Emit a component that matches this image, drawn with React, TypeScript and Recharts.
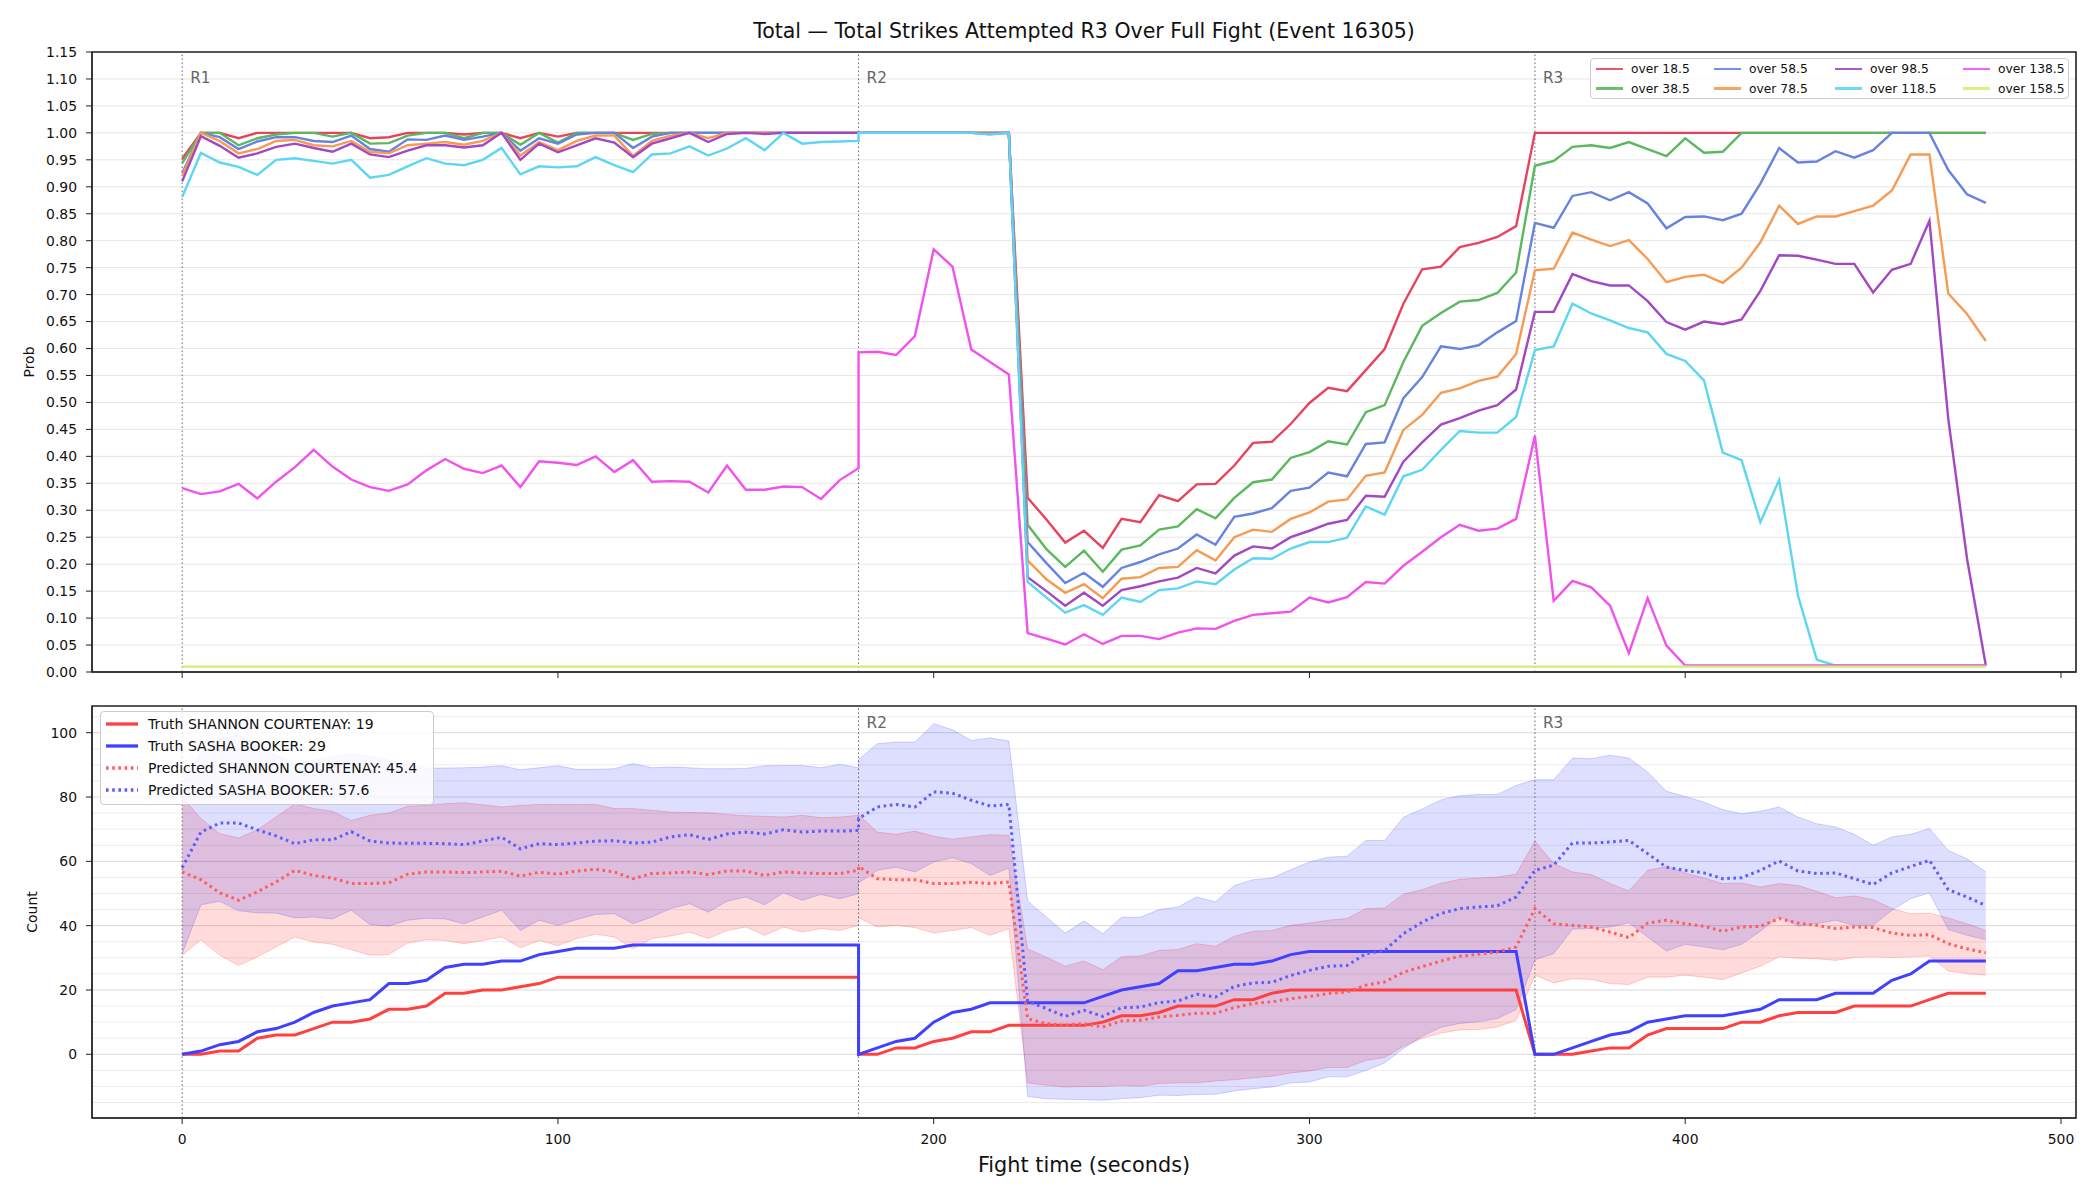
import { ComposedChart, Line, Area, XAxis, YAxis, CartesianGrid, ReferenceLine, ReferenceArea } from 'recharts';

// fight time in seconds, round 2 repeats t=180 so the jump at the bell is vertical
const fightTimes = [
  0, 5, 10, 15, 20, 25, 30, 35, 40, 45, 50, 55, 60, 65, 70, 75, 80, 85, 90, 95, 100, 105, 110, 115, 120, 125, 130, 135, 140, 145, 150, 155, 160, 165, 170, 175, 180,
  180, 185, 190, 195, 200, 205, 210, 215, 220, 225, 230, 235, 240, 245, 250, 255, 260, 265, 270, 275, 280, 285, 290, 295, 300, 305, 310, 315, 320, 325, 330, 335, 340, 345, 350, 355,
  360, 365, 370, 375, 380, 385, 390, 395, 400, 405, 410, 415, 420, 425, 430, 435, 440, 445, 450, 455, 460, 465, 470, 475, 480,
];

const over18 = [
  0.952, 1, 1, 0.99, 1, 1, 1, 1, 1, 1, 0.99, 0.992, 1, 1, 1, 0.997, 1, 1, 0.99, 1, 0.993, 1, 1, 1, 1, 1, 1, 1, 1, 1, 1, 1, 1, 1, 1, 1, 1,
  1, 1, 1, 1, 1, 1, 1, 1, 1, 0.323, 0.283, 0.24, 0.262, 0.23, 0.284, 0.278, 0.328, 0.317, 0.348, 0.349, 0.383, 0.425, 0.427, 0.46, 0.499, 0.527, 0.521, 0.56, 0.599, 0.683, 0.747, 0.752, 0.788, 0.796, 0.807, 0.827,
  1, 1, 1, 1, 1, 1, 1, 1, 1, 1, 1, 1, 1, 1, 1, 1, 1, 1, 1, 1, 1, 1, 1, 1, 1,
];
const over38 = [
  0.944, 1, 1, 0.977, 0.99, 0.997, 1, 1, 0.993, 1, 0.98, 0.981, 0.995, 1, 1, 0.99, 1, 1, 0.978, 1, 0.982, 1, 1, 1, 0.987, 0.998, 1, 1, 1, 1, 1, 1, 1, 1, 1, 1, 1,
  1, 1, 1, 1, 1, 1, 1, 1, 1, 0.273, 0.228, 0.195, 0.225, 0.186, 0.227, 0.235, 0.264, 0.27, 0.302, 0.285, 0.323, 0.352, 0.357, 0.397, 0.408, 0.428, 0.422, 0.482, 0.495, 0.575, 0.642, 0.666, 0.687, 0.69, 0.703, 0.741,
  0.939, 0.948, 0.974, 0.977, 0.972, 0.983, 0.97, 0.957, 0.99, 0.963, 0.965, 1, 1, 1, 1, 1, 1, 1, 1, 1, 1, 1, 1, 1, 1,
];
const over58 = [
  0.925, 1, 0.992, 0.97, 0.984, 0.992, 0.992, 0.985, 0.983, 0.995, 0.97, 0.965, 0.988, 0.987, 0.995, 0.987, 0.993, 1, 0.967, 0.99, 0.98, 0.997, 1, 1, 0.972, 0.993, 1, 1, 1, 1, 1, 1, 1, 1, 1, 1, 1,
  1, 1, 1, 1, 1, 1, 1, 1, 1, 0.241, 0.202, 0.165, 0.184, 0.158, 0.193, 0.204, 0.218, 0.229, 0.255, 0.236, 0.288, 0.294, 0.304, 0.336, 0.342, 0.37, 0.363, 0.423, 0.426, 0.508, 0.547, 0.604, 0.599, 0.606, 0.63, 0.651,
  0.833, 0.824, 0.883, 0.89, 0.875, 0.89, 0.869, 0.823, 0.844, 0.845, 0.838, 0.85, 0.906, 0.972, 0.945, 0.947, 0.966, 0.954, 0.968, 1, 1, 1, 0.931, 0.886, 0.87,
];
const over78 = [
  0.92, 1, 0.985, 0.962, 0.97, 0.985, 0.987, 0.977, 0.975, 0.985, 0.965, 0.962, 0.977, 0.98, 0.983, 0.978, 0.985, 1, 0.958, 0.983, 0.968, 0.985, 0.995, 0.995, 0.957, 0.985, 0.995, 1, 0.99, 1, 1, 1, 1, 1, 1, 1, 1,
  1, 1, 1, 1, 1, 1, 1, 1, 1, 0.207, 0.172, 0.147, 0.163, 0.137, 0.173, 0.176, 0.193, 0.195, 0.226, 0.207, 0.25, 0.264, 0.26, 0.284, 0.296, 0.316, 0.32, 0.364, 0.37, 0.449, 0.477, 0.518, 0.526, 0.54, 0.548, 0.59,
  0.745, 0.748, 0.815, 0.802, 0.79, 0.801, 0.766, 0.723, 0.733, 0.737, 0.722, 0.75, 0.797, 0.865, 0.831, 0.845, 0.845, 0.855, 0.865, 0.893, 0.96, 0.96, 0.702, 0.664, 0.614,
];
const over98 = [
  0.91, 0.994, 0.976, 0.954, 0.962, 0.974, 0.98, 0.972, 0.965, 0.98, 0.96, 0.955, 0.967, 0.977, 0.977, 0.973, 0.977, 1, 0.95, 0.98, 0.964, 0.977, 0.99, 0.982, 0.955, 0.98, 0.99, 1, 0.983, 0.998, 1, 0.998, 1, 1, 1, 1, 1,
  1, 1, 1, 1, 1, 1, 1, 0.998, 1, 0.176, 0.15, 0.123, 0.147, 0.123, 0.152, 0.159, 0.168, 0.175, 0.193, 0.183, 0.216, 0.233, 0.229, 0.25, 0.262, 0.275, 0.282, 0.327, 0.325, 0.39, 0.426, 0.459, 0.471, 0.485, 0.495, 0.524,
  0.668, 0.668, 0.738, 0.725, 0.717, 0.717, 0.688, 0.649, 0.635, 0.65, 0.645, 0.654, 0.707, 0.773, 0.772, 0.765, 0.757, 0.757, 0.704, 0.746, 0.757, 0.837, 0.47, 0.21, 0.012,
];
const over118 = [
  0.881, 0.963, 0.945, 0.937, 0.922, 0.95, 0.953, 0.948, 0.943, 0.95, 0.917, 0.922, 0.938, 0.953, 0.943, 0.94, 0.95, 0.972, 0.923, 0.938, 0.936, 0.938, 0.955, 0.94, 0.927, 0.96, 0.962, 0.975, 0.958, 0.971, 0.99, 0.968, 1, 0.98, 0.983, 0.984, 0.985,
  1, 1, 1, 1, 1, 1, 1, 0.997, 1, 0.167, 0.138, 0.11, 0.124, 0.106, 0.138, 0.13, 0.152, 0.155, 0.168, 0.163, 0.19, 0.211, 0.21, 0.229, 0.241, 0.241, 0.249, 0.307, 0.292, 0.363, 0.375, 0.412, 0.447, 0.444, 0.444, 0.473,
  0.597, 0.604, 0.683, 0.665, 0.652, 0.638, 0.63, 0.59, 0.577, 0.541, 0.407, 0.393, 0.278, 0.356, 0.142, 0.023, 0.012, 0.012, 0.012, 0.012, 0.012, 0.012, 0.012, 0.012, 0.012,
];
const over138 = [
  0.341, 0.33, 0.335, 0.349, 0.322, 0.353, 0.38, 0.412, 0.381, 0.357, 0.343, 0.336, 0.348, 0.374, 0.395, 0.377, 0.369, 0.383, 0.343, 0.391, 0.388, 0.384, 0.4, 0.371, 0.393, 0.353, 0.354, 0.353, 0.333, 0.383, 0.338, 0.338, 0.344, 0.343, 0.321, 0.356, 0.378,
  0.593, 0.594, 0.588, 0.623, 0.784, 0.752, 0.598, 0.575, 0.552, 0.072, 0.062, 0.051, 0.07, 0.052, 0.067, 0.067, 0.061, 0.073, 0.081, 0.08, 0.095, 0.106, 0.109, 0.112, 0.138, 0.129, 0.139, 0.167, 0.164, 0.197, 0.223, 0.25, 0.273, 0.262, 0.266, 0.284,
  0.438, 0.132, 0.169, 0.157, 0.123, 0.035, 0.137, 0.049, 0.012, 0.012, 0.012, 0.012, 0.012, 0.012, 0.012, 0.012, 0.012, 0.012, 0.012, 0.012, 0.012, 0.012, 0.012, 0.012, 0.012,
];
const over158 = [
  0.01, 0.01, 0.01, 0.01, 0.01, 0.01, 0.01, 0.01, 0.01, 0.01, 0.01, 0.01, 0.01, 0.01, 0.01, 0.01, 0.01, 0.01, 0.01, 0.01, 0.01, 0.01, 0.01, 0.01, 0.01, 0.01, 0.01, 0.01, 0.01, 0.01, 0.01, 0.01, 0.01, 0.01, 0.01, 0.01, 0.01,
  0.01, 0.01, 0.01, 0.01, 0.01, 0.01, 0.01, 0.01, 0.01, 0.01, 0.01, 0.01, 0.01, 0.01, 0.01, 0.01, 0.01, 0.01, 0.01, 0.01, 0.01, 0.01, 0.01, 0.01, 0.01, 0.01, 0.01, 0.01, 0.01, 0.01, 0.01, 0.01, 0.01, 0.01, 0.01, 0.01,
  0.01, 0.01, 0.01, 0.01, 0.01, 0.01, 0.01, 0.01, 0.01, 0.01, 0.01, 0.01, 0.01, 0.01, 0.01, 0.01, 0.01, 0.01, 0.01, 0.01, 0.01, 0.01, 0.01, 0.01, 0.01,
];

const truthShannon = [
  0, 0, 1, 1, 5, 6, 6, 8, 10, 10, 11, 14, 14, 15, 19, 19, 20, 20, 21, 22, 24, 24, 24, 24, 24, 24, 24, 24, 24, 24, 24, 24, 24, 24, 24, 24, 24,
  0, 0, 2, 2, 4, 5, 7, 7, 9, 9, 9, 9, 9, 10, 12, 12, 13, 15, 15, 15, 17, 17, 19, 20, 20, 20, 20, 20, 20, 20, 20, 20, 20, 20, 20, 20,
  0, 0, 0, 1, 2, 2, 6, 8, 8, 8, 8, 10, 10, 12, 13, 13, 13, 15, 15, 15, 15, 17, 19, 19, 19,
];
const truthSasha = [
  0, 1, 3, 4, 7, 8, 10, 13, 15, 16, 17, 22, 22, 23, 27, 28, 28, 29, 29, 31, 32, 33, 33, 33, 34, 34, 34, 34, 34, 34, 34, 34, 34, 34, 34, 34, 34,
  0, 2, 4, 5, 10, 13, 14, 16, 16, 16, 16, 16, 16, 18, 20, 21, 22, 26, 26, 27, 28, 28, 29, 31, 32, 32, 32, 32, 32, 32, 32, 32, 32, 32, 32, 32,
  0, 0, 2, 4, 6, 7, 10, 11, 12, 12, 12, 13, 14, 17, 17, 17, 19, 19, 19, 23, 25, 29, 29, 29, 29,
];
const predShannon = [
  56.7, 54.3, 50.2, 47.9, 50.5, 53.6, 57.2, 55.6, 54.8, 53.1, 53.1, 53.3, 56.0, 56.7, 56.7, 56.5, 56.7, 56.9, 55.4, 56.6, 56.0, 57.0, 57.5, 56.7, 54.6, 56.2, 56.4, 56.7, 55.9, 57.0, 57.0, 55.6, 56.7, 56.4, 56.2, 56.2, 57.2,
  58.4, 54.6, 54.3, 54.3, 53.1, 53.1, 53.5, 53.1, 53.6, 11.1, 9.5, 9.0, 9.5, 8.5, 10.4, 10.6, 11.6, 12.1, 12.8, 12.8, 14.5, 15.8, 16.3, 17.3, 18.0, 18.9, 19.4, 21.5, 22.5, 25.5, 27.3, 29.0, 30.5, 31.1, 31.8, 33.4,
  45.3, 40.6, 40.1, 39.6, 38.0, 36.3, 40.8, 41.7, 40.6, 39.8, 38.3, 39.6, 39.8, 42.2, 40.8, 40.1, 39.1, 39.6, 39.4, 37.7, 37.0, 37.2, 34.4, 32.8, 31.6,
];
const predSasha = [
  58.0, 69.1, 71.9, 71.9, 69.8, 67.9, 65.5, 66.7, 66.7, 69.2, 66.3, 65.7, 65.6, 65.6, 65.5, 65.2, 66.3, 67.5, 63.9, 65.5, 65.2, 65.7, 66.3, 66.4, 65.7, 66.0, 67.6, 68.3, 66.8, 68.5, 69.1, 68.5, 69.8, 69.1, 69.4, 69.4, 69.6,
  73.3, 76.9, 77.7, 76.9, 81.6, 81.2, 79.0, 77.2, 77.7, 16.5, 14.2, 11.8, 13.7, 11.8, 14.5, 14.7, 16.1, 16.6, 18.7, 17.8, 21.1, 22.2, 22.4, 24.5, 26.1, 27.4, 27.6, 31.3, 32.3, 37.5, 41.1, 43.8, 45.3, 45.8, 46.2, 48.9,
  57.2, 58.8, 65.7, 65.7, 66.0, 66.5, 62.4, 58.2, 57.2, 56.4, 54.6, 54.9, 57.2, 60.1, 57.0, 56.2, 56.4, 54.6, 52.8, 56.4, 58.4, 60.3, 51.2, 48.9, 46.3,
];
const shannonLow = [
  30.8, 35.6, 30.8, 27.6, 30.3, 33.4, 36.5, 34.9, 34.2, 32.5, 30.8, 31.0, 34.6, 35.6, 35.4, 34.4, 35.4, 36.5, 33.1, 35.4, 33.8, 36.0, 37.3, 36.5, 32.8, 36.0, 36.8, 38.0, 36.0, 38.5, 39.6, 37.0, 39.6, 38.0, 39.1, 38.5, 40.1,
  42.5, 39.6, 40.1, 39.4, 37.7, 38.5, 39.4, 37.0, 39.1, -8.9, -9.6, -10.2, -10.0, -10.0, -9.6, -9.9, -9.1, -8.9, -8.9, -8.3, -7.9, -7.3, -6.8, -5.8, -5.2, -4.1, -4.1, -1.9, -1.0, 2.5, 5.0, 6.6, 7.6, 7.7, 8.5, 10.6,
  24.6, 22.2, 23.5, 23.3, 22.0, 21.7, 24.0, 24.0, 24.6, 24.0, 23.2, 25.3, 27.4, 30.3, 29.9, 29.7, 29.2, 30.1, 30.3, 30.1, 30.3, 30.6, 25.9, 25.1, 24.6,
];
const shannonHigh = [
  80.0, 73.3, 68.6, 67.3, 69.8, 73.8, 77.9, 76.4, 75.6, 72.7, 74.3, 75.0, 77.1, 77.4, 77.9, 78.2, 77.6, 76.9, 77.4, 77.7, 77.7, 77.7, 77.7, 76.4, 76.4, 75.9, 75.3, 75.2, 75.1, 74.6, 74.2, 74.0, 73.8, 74.3, 73.6, 73.8, 74.3,
  74.6, 69.1, 68.4, 69.4, 67.8, 66.9, 67.6, 68.3, 68.1, 32.8, 30.2, 27.4, 29.0, 26.3, 30.3, 30.6, 32.3, 32.6, 34.4, 33.6, 36.7, 38.3, 38.5, 40.1, 40.8, 41.7, 42.2, 45.3, 45.5, 49.8, 51.2, 53.2, 54.4, 54.8, 55.1, 56.0,
  66.3, 59.3, 56.7, 55.9, 53.1, 50.8, 57.2, 58.4, 56.4, 54.8, 53.1, 53.3, 52.0, 53.1, 52.5, 50.7, 48.7, 49.2, 48.1, 45.3, 43.7, 43.9, 42.4, 40.6, 38.5,
];
const sashaLow = [
  31.3, 46.5, 47.6, 44.6, 44.0, 43.9, 42.4, 42.7, 42.1, 44.8, 40.3, 39.9, 41.7, 42.3, 42.1, 40.6, 42.7, 44.8, 38.5, 41.7, 40.1, 41.9, 43.5, 43.7, 40.6, 42.7, 45.3, 46.8, 44.2, 47.6, 48.9, 46.5, 50.2, 47.9, 49.7, 48.4, 49.9,
  53.3, 57.2, 58.2, 56.7, 59.8, 61.1, 59.3, 55.6, 57.9, -13.1, -13.8, -14.0, -14.1, -14.3, -13.8, -13.5, -12.7, -12.8, -12.5, -12.4, -11.4, -10.7, -10.2, -8.9, -8.6, -7.0, -7.0, -5.0, -2.7, 1.8, 5.6, 8.4, 9.6, 10.1, 11.1, 13.9,
  29.4, 31.3, 38.9, 39.1, 39.6, 40.9, 36.5, 32.1, 34.2, 33.4, 32.5, 34.2, 38.3, 42.9, 39.9, 40.6, 41.7, 40.1, 40.1, 44.8, 48.4, 50.2, 38.8, 37.0, 35.6,
];
const sashaHigh = [
  84.0, 94.0, 98.0, 99.3, 96.0, 93.0, 90.5, 91.5, 92.5, 93.5, 92.5, 91.5, 90.0, 89.0, 89.0, 89.1, 89.3, 89.7, 88.5, 89.1, 89.7, 88.6, 88.6, 88.8, 90.4, 89.1, 89.3, 89.1, 88.8, 88.8, 88.9, 89.7, 89.8, 89.8, 89.1, 90.2, 89.1,
  91.6, 96.6, 97.1, 97.1, 102.8, 100.9, 97.6, 98.4, 97.4, 47.7, 42.7, 37.7, 41.5, 37.5, 42.6, 42.6, 45.0, 45.8, 48.9, 47.4, 52.5, 54.3, 54.8, 57.4, 59.8, 61.3, 61.6, 66.5, 66.5, 73.7, 76.3, 79.1, 80.4, 80.8, 80.8, 83.6,
  85.4, 85.4, 92.1, 91.9, 93.0, 92.1, 87.8, 81.8, 80.2, 78.4, 76.1, 74.8, 75.6, 76.9, 73.8, 71.7, 70.7, 68.4, 65.0, 67.6, 68.4, 70.2, 63.4, 60.8, 56.7,
];

const timeTicks = [0, 100, 200, 300, 400, 500];
const probTicks = [0, 0.05, 0.1, 0.15, 0.2, 0.25, 0.3, 0.35, 0.4, 0.45, 0.5, 0.55, 0.6, 0.65, 0.7, 0.75, 0.8, 0.85, 0.9, 0.95, 1, 1.05, 1.1, 1.15];
const countTicks = [0, 20, 40, 60, 80, 100];
const countMinorGrid = [-15, -10, -5, 5, 10, 15, 25, 30, 35, 45, 50, 55, 65, 70, 75, 85, 90, 95, 105];
const roundStarts = [0, 180, 360];
const roundNames = ['R1', 'R2', 'R3'];

const rows = fightTimes.map((t, i) => ({
  t,
  o18: over18[i], o38: over38[i], o58: over58[i], o78: over78[i],
  o98: over98[i], o118: over118[i], o138: over138[i], o158: over158[i],
  truthShannon: truthShannon[i], truthSasha: truthSasha[i],
  predShannon: predShannon[i], predSasha: predSasha[i],
  shannonBand: [shannonLow[i], shannonHigh[i]],
  sashaBand: [sashaLow[i], sashaHigh[i]],
}));

const probSeries = [
  { key: 'o18', name: 'over 18.5', color: '#e8435e' },
  { key: 'o38', name: 'over 38.5', color: '#5bb85d' },
  { key: 'o58', name: 'over 58.5', color: '#6683e0' },
  { key: 'o78', name: 'over 78.5', color: '#f79a52' },
  { key: 'o98', name: 'over 98.5', color: '#a347c2' },
  { key: 'o118', name: 'over 118.5', color: '#5dd6f2' },
  { key: 'o138', name: 'over 138.5', color: '#f152ee' },
  { key: 'o158', name: 'over 158.5', color: '#d2ee73' },
];

const countSeries = [
  { key: 'truthShannon', name: 'Truth SHANNON COURTENAY: 19', color: '#ff4040', dash: undefined as string | undefined },
  { key: 'truthSasha', name: 'Truth SASHA BOOKER: 29', color: '#4040ff', dash: undefined as string | undefined },
  { key: 'predShannon', name: 'Predicted SHANNON COURTENAY: 45.4', color: '#ff5c5c', dash: '2.6 3.6' },
  { key: 'predSasha', name: 'Predicted SASHA BOOKER: 57.6', color: '#5c5cff', dash: '2.6 3.6' },
];

const tickStyle = { fontSize: 13.9, fill: '#111' };

const roundLabel = (text: string, dy: number) => (props: any) => {
  const vb = props.viewBox || { x: 0, y: 0 };
  return (
    <text x={vb.x + 8} y={vb.y + dy} dominantBaseline="central" fontSize={15.3} fill="#666">
      {text}
    </text>
  );
};

const axisTitle = (text: string, x: number) => (props: any) => {
  const vb = props.viewBox || { x: 0, y: 0, width: 0, height: 0 };
  const cy = vb.y + vb.height / 2;
  return (
    <text x={x} y={cy} transform={`rotate(-90, ${x}, ${cy})`} textAnchor="middle" dominantBaseline="central" fontSize={14} fill="#111">
      {text}
    </text>
  );
};

function ProbLegend() {
  const cols = [5, 123, 244, 372];
  const rowsY = [10, 29.5];
  return (
    <div style={{ position: 'absolute', left: 1590, top: 58, width: 479, height: 41, boxSizing: 'border-box', border: '1px solid #cccccc', borderRadius: 4, background: 'rgba(255,255,255,0.8)' }}>
      {probSeries.map((s, i) => (
        <div key={s.key} style={{ position: 'absolute', left: cols[Math.floor(i / 2)], top: rowsY[i % 2] - 8, height: 16, display: 'flex', alignItems: 'center', whiteSpace: 'nowrap' }}>
          <span style={{ display: 'inline-block', width: 27, height: 2.8, background: s.color, opacity: 0.9, marginRight: 8 }} />
          <span style={{ fontSize: 12.3, color: '#111' }}>{s.name}</span>
        </div>
      ))}
    </div>
  );
}

function CountLegend() {
  return (
    <div style={{ position: 'absolute', left: 100, top: 711, width: 334, height: 94, boxSizing: 'border-box', border: '1px solid #cccccc', borderRadius: 4, background: 'rgba(255,255,255,0.8)' }}>
      {countSeries.map((s, i) => (
        <div key={s.key} style={{ position: 'absolute', left: 5, top: 11.5 + i * 22.3 - 10, height: 20, display: 'flex', alignItems: 'center', whiteSpace: 'nowrap' }}>
          <svg width={32} height={8} style={{ marginRight: 10 }}>
            <line x1={0} y1={4} x2={32} y2={4} stroke={s.color} strokeWidth={3.3} strokeDasharray={s.dash} />
          </svg>
          <span style={{ fontSize: 14, color: '#111' }}>{s.name}</span>
        </div>
      ))}
    </div>
  );
}

export default function App() {
  return (
    <div style={{ position: 'absolute', left: 0, top: 0, width: 2100, height: 1200, background: '#fff', fontFamily: '"DejaVu Sans", sans-serif', overflow: 'hidden' }}>
      <div style={{ position: 'absolute', left: 92, width: 1984, top: 19, textAlign: 'center', fontSize: 20.5, lineHeight: '25px', color: '#111' }}>
        Total — Total Strikes Attempted R3 Over Full Fight (Event 16305)
      </div>

      <div style={{ position: 'absolute', left: 0, top: 0 }}>
        <ComposedChart width={2100} height={690} data={rows} margin={{ top: 52, right: 24, bottom: 0, left: 0 }}>
          <CartesianGrid vertical={false} stroke="#e6e6e6" />
          <XAxis dataKey="t" type="number" domain={[-24, 504]} ticks={timeTicks} interval={0} height={18} tickSize={6} tickFormatter={() => ''} stroke="#222" />
          <YAxis type="number" domain={[0, 1.15]} ticks={probTicks} interval={0} width={92} tickSize={6} tickMargin={9} tick={tickStyle} stroke="#222" tickFormatter={(v: number) => v.toFixed(2)} label={axisTitle('Prob', 29)} />
          {roundStarts.map((x, i) => (
            <ReferenceLine key={x} x={x} stroke="#666" strokeDasharray="1.5 2.5" strokeWidth={1} label={roundLabel(roundNames[i], 26)} />
          ))}
          {probSeries.map((s) => (
            <Line key={s.key} type="linear" dataKey={s.key} name={s.name} stroke={s.color} strokeWidth={2.4} dot={false} activeDot={false} isAnimationActive={false} />
          ))}
          <ReferenceArea x1={-24} x2={504} y1={0} y2={1.15} fill="none" stroke="#222" strokeWidth={1.6} />
        </ComposedChart>
      </div>

      <div style={{ position: 'absolute', left: 0, top: 690 }}>
        <ComposedChart width={2100} height={510} data={rows} margin={{ top: 16, right: 24, bottom: 0, left: 0 }}>
          <CartesianGrid vertical={false} horizontalValues={countMinorGrid} stroke="#ececec" />
          <CartesianGrid vertical={false} horizontalValues={countTicks} stroke="#d9d9d9" />
          <XAxis dataKey="t" type="number" domain={[-24, 504]} ticks={timeTicks} interval={0} height={82} tickSize={6} tickMargin={10} tick={tickStyle} stroke="#222" />
          <YAxis type="number" domain={[-19.8, 108.3]} ticks={countTicks} interval={0} width={92} tickSize={6} tickMargin={9} tick={tickStyle} stroke="#222" label={axisTitle('Count', 32)} />
          <Area type="linear" dataKey="shannonBand" stroke="#ff0000" strokeOpacity={0.18} strokeWidth={1} fill="#ff0000" fillOpacity={0.14} dot={false} activeDot={false} isAnimationActive={false} />
          <Area type="linear" dataKey="sashaBand" stroke="#0000ff" strokeOpacity={0.16} strokeWidth={1} fill="#0000ff" fillOpacity={0.13} dot={false} activeDot={false} isAnimationActive={false} />
          {roundStarts.map((x, i) => (
            <ReferenceLine key={x} x={x} stroke="#666" strokeDasharray="1.5 2.5" strokeWidth={1} label={i > 0 ? roundLabel(roundNames[i], 17) : undefined} />
          ))}
          {countSeries.map((s) => (
            <Line key={s.key} type="linear" dataKey={s.key} name={s.name} stroke={s.color} strokeWidth={3} strokeDasharray={s.dash} dot={false} activeDot={false} isAnimationActive={false} />
          ))}
          <ReferenceArea x1={-24} x2={504} y1={-19.8} y2={108.3} fill="none" stroke="#222" strokeWidth={1.6} />
        </ComposedChart>
      </div>

      <div style={{ position: 'absolute', left: 92, width: 1984, top: 1152, textAlign: 'center', fontSize: 20.8, lineHeight: '26px', color: '#111' }}>
        Fight time (seconds)
      </div>

      <ProbLegend />
      <CountLegend />
    </div>
  );
}
